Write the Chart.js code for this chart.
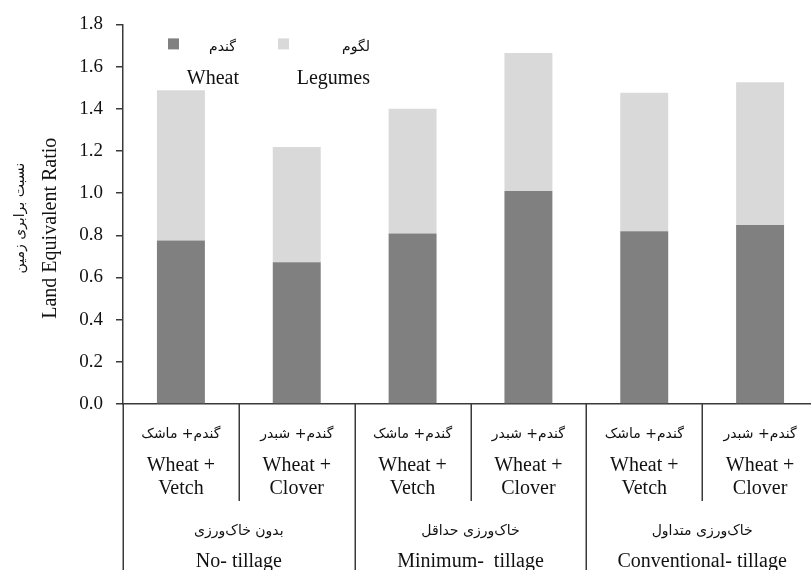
<!DOCTYPE html>
<html>
<head>
<meta charset="utf-8">
<script src="https://cdn.jsdelivr.net/npm/chart.js@4/dist/chart.umd.min.js"></script>
<style>
  html, body { margin: 0; padding: 0; background: #fff; overflow: hidden; }
  #wrap { width: 830px; height: 580px; }
</style>
</head>
<body>
<div id="wrap"><canvas id="ler" width="830" height="580"></canvas></div>
<script>
// Intercropping treatments (Persian name, English name split over two lines)
const cropFa = ["گندم+ ماشک", "گندم+ شبدر", "گندم+ ماشک", "گندم+ شبدر", "گندم+ ماشک", "گندم+ شبدر"];
const cropEnTop = ["Wheat +", "Wheat +", "Wheat +", "Wheat +", "Wheat +", "Wheat +"];
const cropEnBottom = ["Vetch", "Clover", "Vetch", "Clover", "Vetch", "Clover"];

// Tillage systems, each covering two treatments
const tillageFa = ["بدون خاک‌ورزی", "خاک‌ورزی حداقل", "خاک‌ورزی متداول"];
const tillageEn = ["No- tillage", "Minimum-  tillage", "Conventional- tillage"];

// Partial land equivalent ratios
const seriesEn = ["Wheat", "Legumes"];
const seriesFa = ["گندم", "لگوم"];
const wheatLER = [0.775, 0.672, 0.809, 1.010, 0.819, 0.849];
const legumeLER = [0.713, 0.547, 0.591, 0.654, 0.657, 0.677];

// Y axis range
const yMin = 0, yMax = 1.8, yStep = 0.2;

const serif = "'Liberation Serif', 'Times New Roman', serif";
const persian = "'DejaVu Sans', 'Noto Sans', sans-serif";
const ink = '#111';
const lineCol = '#3a3a3a';

// Multi-level category labels with separators under the x axis
const categoryLabels = {
  id: 'categoryLabels',
  afterDraw(chart) {
    const ctx = chart.ctx, xs = chart.scales.x, area = chart.chartArea;
    const n = chart.data.labels.length;
    const step = xs.getPixelForValue(1) - xs.getPixelForValue(0);
    const bottom = chart.height;
    ctx.save();
    ctx.strokeStyle = lineCol;
    ctx.lineWidth = 1.5;
    for (let b = 0; b <= n; b++) {
      const x = Math.round(xs.getPixelForValue(b) - step / 2) + 0.25;
      ctx.beginPath();
      ctx.moveTo(x, area.bottom);
      ctx.lineTo(x, b % 2 === 0 ? bottom : area.bottom + 97);
      ctx.stroke();
    }
    ctx.fillStyle = ink;
    ctx.textAlign = 'center';
    ctx.textBaseline = 'middle';
    for (let i = 0; i < n; i++) {
      const cx = xs.getPixelForValue(i);
      ctx.direction = 'rtl';
      ctx.font = '14px ' + persian;
      ctx.fillText(cropFa[i], cx, area.bottom + 30);
      ctx.direction = 'ltr';
      ctx.font = '20px ' + serif;
      ctx.fillText(cropEnTop[i], cx, area.bottom + 62);
      ctx.fillText(cropEnBottom[i], cx, area.bottom + 85);
    }
    for (let g = 0; g < tillageEn.length; g++) {
      const cx = (xs.getPixelForValue(2 * g) + xs.getPixelForValue(2 * g + 1)) / 2;
      ctx.direction = 'rtl';
      ctx.font = '14px ' + persian;
      ctx.fillText(tillageFa[g], cx, area.bottom + 127);
      ctx.direction = 'ltr';
      ctx.font = '20px ' + serif;
      ctx.fillText(tillageEn[g], cx, area.bottom + 158);
    }
    ctx.restore();
  }
};

// Bilingual legend inside the plot, plus bilingual y-axis title
const pairLegend = {
  id: 'pairLegend',
  afterDraw(chart, args, opts) {
    const ctx = chart.ctx, area = chart.chartArea;
    ctx.save();
    chart.data.datasets.forEach((ds, i) => {
      const bx = area.left + opts.offsets[i];
      const by = area.top + 14;
      ctx.fillStyle = ds.backgroundColor;
      ctx.fillRect(bx, by, 11, 11);
      ctx.fillStyle = ink;
      ctx.textBaseline = 'middle';
      ctx.direction = 'rtl';
      ctx.textAlign = 'right';
      ctx.font = '14px ' + persian;
      ctx.fillText(seriesFa[i], bx + opts.faEnd[i], by + 9);
      ctx.direction = 'ltr';
      ctx.textAlign = 'right';
      ctx.font = '20px ' + serif;
      ctx.fillText(ds.label, bx + opts.enEnd[i], by + 40);
    });
    // y title
    const midY = (area.top + area.bottom) / 2;
    ctx.textAlign = 'center';
    ctx.textBaseline = 'middle';
    ctx.save();
    ctx.translate(51, midY + 14);
    ctx.rotate(-Math.PI / 2);
    ctx.font = '20px ' + serif;
    ctx.fillText('Land Equivalent Ratio', 0, 0);
    ctx.restore();
    ctx.save();
    ctx.translate(20, midY + 4);
    ctx.rotate(-Math.PI / 2);
    ctx.direction = 'rtl';
    ctx.font = '14px ' + persian;
    ctx.fillText('نسبت برابری زمین', 0, 0);
    ctx.restore();
    ctx.restore();
  }
};

new Chart(document.getElementById('ler'), {
  type: 'bar',
  data: {
    labels: cropEnBottom.map((c, i) => cropEnTop[i] + ' ' + c),
    datasets: [
      { label: seriesEn[0], data: wheatLER, backgroundColor: '#808080' },
      { label: seriesEn[1], data: legumeLER, backgroundColor: '#d9d9d9' }
    ]
  },
  options: {
    responsive: false,
    devicePixelRatio: 1,
    animation: false,
    layout: { padding: { top: 23, right: 12, left: 0, bottom: 0 } },
    datasets: { bar: { categoryPercentage: 1.0, barPercentage: 0.414 } },
    scales: {
      x: {
        stacked: true,
        grid: { display: false, drawTicks: false },
        border: { display: true, color: lineCol, width: 1.5 },
        ticks: { display: false },
        afterFit(scale) { scale.height = 176; }
      },
      y: {
        stacked: true,
        min: yMin, max: yMax,
        grid: { display: true, drawOnChartArea: false, drawTicks: true, tickLength: 7, color: lineCol, lineWidth: 1.5 },
        border: { display: true, color: lineCol, width: 1.5 },
        ticks: {
          stepSize: yStep,
          padding: 13,
          color: ink,
          font: { family: serif, size: 19 },
          callback: v => Number(v).toFixed(1)
        },
        afterFit(scale) { scale.width = 123; }
      }
    },
    plugins: {
      legend: { display: false },
      tooltip: { enabled: false },
      pairLegend: { offsets: [45, 155], faEnd: [68, 92], enEnd: [71, 92] }
    }
  },
  plugins: [categoryLabels, pairLegend]
});
</script>
</body>
</html>
